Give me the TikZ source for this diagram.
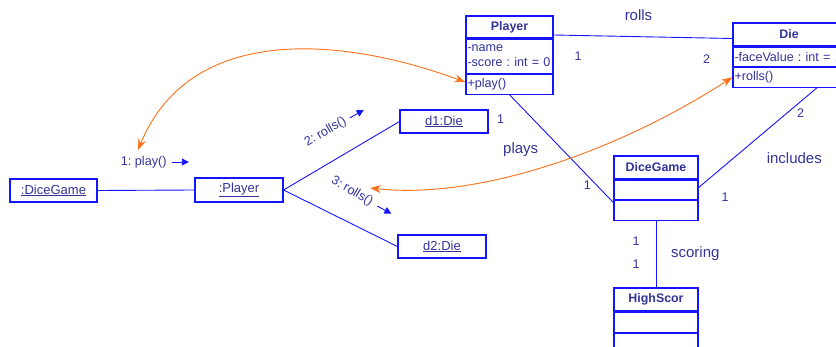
\documentclass[tikz,border=0pt]{standalone}
\usepackage{fontspec}
\setmainfont{Liberation Sans}
\usepackage{xcolor}
\usetikzlibrary{arrows.meta,positioning}
\frenchspacing
\definecolor{umlink}{HTML}{333399}
\definecolor{umline}{HTML}{1414FF}
\definecolor{callor}{HTML}{FF7018}
\tikzset{
  objbox/.style ={draw=umline,line width=1.1pt,fill=white,text=umlink,inner sep=0pt,
                  font=\fontsize{13}{15}\selectfont},
  clshead/.style={draw=umline,line width=1.1pt,fill=white,text=umlink,inner sep=0pt,
                  font=\fontsize{12.4}{15}\selectfont\bfseries},
  clsbody/.style={draw=umline,line width=1.1pt,fill=white,text=umlink,inner xsep=1.5pt,
                  inner ysep=0pt,align=left,font=\fontsize{12.6}{15}\selectfont},
  assoc/.style  ={draw=umline,line width=0.9pt},
  call/.style   ={{Stealth[length=11pt,width=8pt]}-{Stealth[length=11pt,width=8pt]},
                  line width=0.9pt,draw=callor,fill=none},
  msg/.style    ={-{Triangle[length=7pt,width=7pt]},line width=0.9pt,draw=umline},
  msgtxt/.style ={text=umlink,inner sep=1pt,font=\fontsize{12.7}{15}\selectfont},
  mult/.style   ={text=umlink,inner sep=1pt,font=\fontsize{12.5}{15}\selectfont},
  assocname/.style={text=umlink,inner sep=1pt,font=\fontsize{15}{18}\selectfont}
}
\begin{document}
\begin{tikzpicture}[x=1pt,y=-1pt]
  \useasboundingbox (0,0) rectangle (836,347);
  \clip (0,0) rectangle (836,347);
  % objects
  \node[objbox,minimum width=87pt,minimum height=23pt] (dg-obj) at (53.5,190.5) {\underline{:DiceGame}};
  \node[objbox,minimum width=88pt,minimum height=24pt] (pl-obj) at (239,190) {\underline{:Player}};
  \node[objbox,minimum width=88pt,minimum height=23pt] (d1) at (444,121.5) {\underline{d1:Die}};
  \node[objbox,minimum width=88pt,minimum height=23pt] (d2) at (442,246.5) {\underline{d2:Die}};
  % classes
  \node[clshead,minimum width=87pt,minimum height=22pt] (plr-head) at (509.5,27) {Player};
  \node[clsbody,text width=84pt,minimum height=34pt,below=0pt of plr-head] (plr-att) {-name\\-score : int = 0};
  \node[clsbody,text width=84pt,minimum height=20pt,below=0pt of plr-att] (plr-ops) {+play()};
  \node[clshead,minimum width=112pt,minimum height=23pt] (die-head) at (789,34.5) {Die};
  \node[clsbody,text width=109pt,minimum height=19pt,below=0pt of die-head] (die-att) {-faceValue : int = 1};
  \node[clsbody,text width=109pt,minimum height=20pt,below=0pt of die-att] (die-ops) {+rolls()};
  \node[clshead,minimum width=84pt,minimum height=23pt] (dg-head) at (656,167.5) {DiceGame};
  \node[clsbody,text width=81pt,minimum height=19pt,below=0pt of dg-head] (dg-att) {};
  \node[clsbody,text width=81pt,minimum height=20pt,below=0pt of dg-att] (dg-ops) {};
  \node[clshead,minimum width=84pt,minimum height=23pt] (hs-head) at (656,299.5) {HighScor};
  \node[clsbody,text width=81pt,minimum height=20pt,below=0pt of hs-head] (hs-att) {};
  \node[clsbody,text width=81pt,minimum height=20pt,below=0pt of hs-att] (hs-ops) {};
  % links
  \draw[assoc] (dg-obj.east) -- (pl-obj.west);
  \draw[assoc] (pl-obj.east) -- (d1.west);
  \draw[assoc] (pl-obj.east) -- (d2.west);
  \draw[assoc] ([yshift=-8pt]plr-head.east) -- ([yshift=-4pt]die-head.west);
  \draw[assoc] (plr-ops.south) -- ([yshift=-3pt]dg-ops.north west);
  \draw[assoc] ([xshift=28pt]die-ops.south) -- ([yshift=2pt]dg-att.east);
  \draw[assoc] (dg-ops.south) -- (hs-head.north);
  % association labels
  \node[assocname] (rolls) at (638.5,15) {rolls};
  \node[assocname] (plays) at (520.7,149.3) {plays};
  \node[assocname] (incl) at (794.3,157.7) {includes};
  \node[assocname] (scor) at (695.3,253.3) {scoring};
  \node[mult] at (578,56.7) {1};
  \node[mult] at (706.7,59.3) {2};
  \node[mult] at (500.7,119.3) {1};
  \node[mult] at (587.3,185) {1};
  \node[mult] at (800.7,112.7) {2};
  \node[mult] at (725,197.7) {1};
  \node[mult] at (636,241.7) {1};
  \node[mult] at (636,264.3) {1};
  % messages
  \node[msgtxt] (m1) at (143.7,162) {1: play()};
  \draw[msg] ([xshift=4pt]m1.east) -- ++(17pt,0);
  \node[msgtxt,rotate=30] (m2) at (325.5,132) {2: rolls()};
  \draw[msg] ([shift={(30:4pt)}]m2.east) -- ++(30:16pt);
  \node[msgtxt,rotate=-30] (m3) at (352,191.5) {3: rolls()};
  \draw[msg] ([shift={(-30:5pt)}]m3.east) -- ++(-28:16pt);
  % call flow
  \coordinate (m1tip) at (138,150);
  \coordinate (m3tip) at (370,188);
  \draw[call] ([yshift=2pt]plr-ops.west) .. controls (340,36) and (190,24) .. (m1tip);
  \draw[call] (die-ops.west) .. controls (620,150) and (480,200) .. (m3tip);
\end{tikzpicture}
\end{document}
